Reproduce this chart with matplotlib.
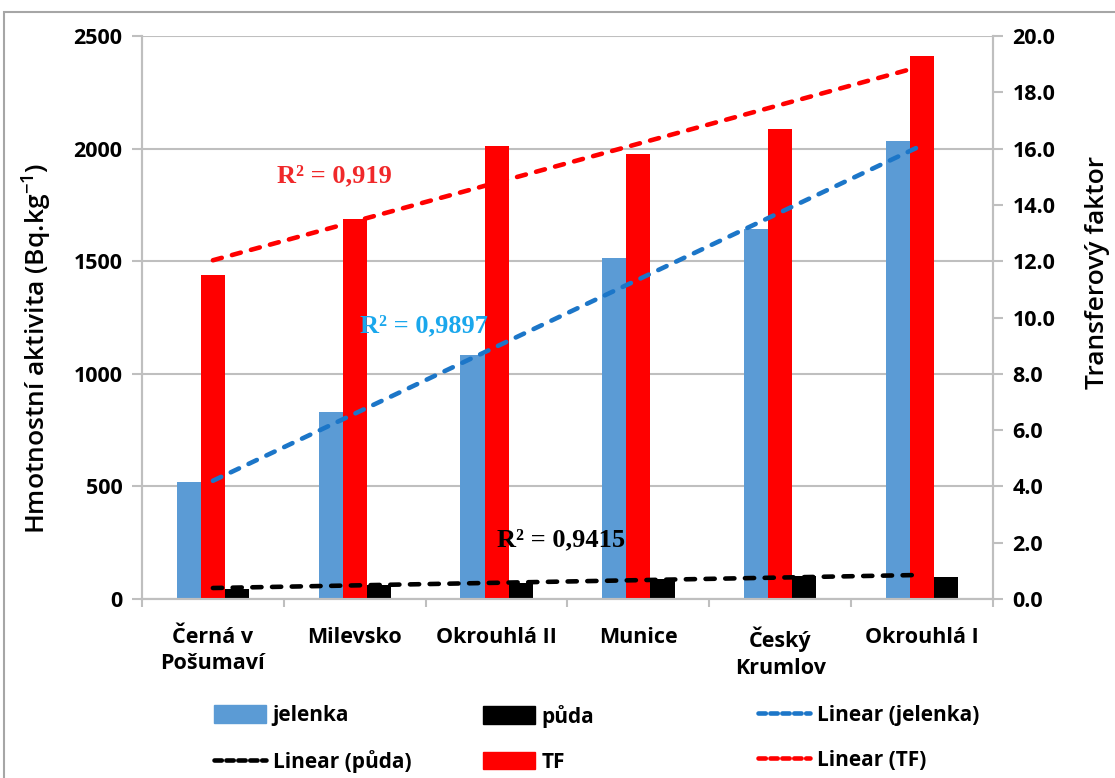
import numpy as np
import matplotlib
matplotlib.use("Agg")
import matplotlib.pyplot as plt
from matplotlib.patches import Rectangle, Patch
from matplotlib.lines import Line2D

categories = ["Černá v\nPošumaví", "Milevsko", "Okrouhlá II", "Munice", "Český\nKrumlov", "Okrouhlá I"]
jelenka = [519, 830, 1083, 1515, 1641, 2032]
puda = [44, 62, 72, 89, 102, 98]
tf = [11.5, 13.5, 16.1, 15.8, 16.7, 19.3]
left_ticks = [0, 500, 1000, 1500, 2000, 2500]
right_ticks = [0, 2, 4, 6, 8, 10, 12, 14, 16, 18, 20]
r2_labels = ["0,9897", "0,9415", "0,919"]

plt.rcParams['font.family'] = ['Open Sans', 'DejaVu Sans']
plt.rcParams['mathtext.fontset'] = 'custom'
plt.rcParams['mathtext.rm'] = 'Open Sans:semibold'
plt.rcParams['mathtext.it'] = 'Open Sans:italic'
plt.rcParams['mathtext.bf'] = 'Open Sans:bold'

W, H = 1115, 778
fig = plt.figure(figsize=(W / 100, H / 100), dpi=100)
fig.patches.append(Rectangle((4 / W, -0.05), 1.2, 1 - 12 / H + 0.05, transform=fig.transFigure,
                             fill=False, edgecolor='#a6a6a6', linewidth=1.5, zorder=0))

ax = fig.add_axes([142 / W, 1 - 599 / H, (993 - 142) / W, (599 - 36) / H])
ax2 = ax.twinx()

BLUE = '#5B9BD5'
RED = '#FF0000'
BLACK = '#000000'
TBLUE = '#1C76C8'
GRID = '#BFBFBF'

x = np.arange(len(categories))
w = 0.17
ax.bar(x - w, jelenka, width=w, color=BLUE, zorder=2)
ax.bar(x + w, puda, width=w, color=BLACK, zorder=2)
ax2.bar(x, tf, width=w, color=RED, zorder=2)

# linear trendlines
xs = x + 1.0
lw = 3.3
dash = (2.0, 2.3)
pj = np.polyfit(xs, jelenka, 1)
pp = np.polyfit(xs, puda, 1)
pt = np.polyfit(xs, tf, 1)
ends = np.array([xs[0], xs[-1]])
ax2.plot(ends - 1, np.polyval(pj, ends) / 125.0, color=TBLUE, lw=lw, dashes=dash,
         dash_capstyle='round', zorder=5)
ax2.plot(ends - 1, np.polyval(pp, ends) / 125.0, color=BLACK, lw=lw, dashes=dash,
         dash_capstyle='round', zorder=5)
ax2.plot(ends - 1, np.polyval(pt, ends), color=RED, lw=lw, dashes=dash,
         dash_capstyle='round', zorder=5)

ax.set_xlim(-0.5, len(categories) - 0.5)
ax.set_ylim(0, 2500)
ax2.set_ylim(0, 20)
ax.set_yticks(left_ticks)
ax2.set_yticks(right_ticks)
ax2.set_yticklabels([f"{v:.1f}" for v in right_ticks])
ax.grid(axis='y', color=GRID, linewidth=1.5, zorder=0)
ax.set_axisbelow(True)

ax.set_xticks(x)
ax.set_xticklabels(categories, fontsize=15.5, fontweight='bold', linespacing=1.35)
ax.set_xticks(np.arange(len(categories) + 1) - 0.5, minor=True)
ax.tick_params(axis='x', which='major', length=0, pad=20)
ax.tick_params(axis='x', which='minor', length=6, color=GRID, width=1.5)
ax.tick_params(axis='y', length=7, color=GRID, width=1.5, labelsize=15.5, pad=7)
ax2.tick_params(axis='y', length=7, color=GRID, width=1.5, labelsize=15.5, pad=7)
for lab in ax.get_yticklabels() + ax2.get_yticklabels():
    lab.set_fontweight('bold')

for a in (ax, ax2):
    for s in ('top',):
        a.spines[s].set_visible(False)
    for s in ('left', 'right', 'bottom'):
        a.spines[s].set_color(GRID)
        a.spines[s].set_linewidth(1.5)

ax.set_ylabel(r"Hmotnostní aktivita (Bq.kg$^{-1}$)", fontsize=19, fontweight='semibold')
ax2.set_ylabel("Transferový faktor", fontsize=19, fontweight='semibold')
ax.yaxis.set_label_coords((37 - 142) / 851, (599 - 348) / 563)
ax2.yaxis.set_label_coords((1097 - 142) / 851, (599 - 272) / 563)
ax.yaxis.label.set_va('center')
ax2.yaxis.label.set_va('center')

# R^2 annotations
tkw = dict(fontsize=19, fontweight='bold', family='Liberation Serif', transform=fig.transFigure,
           va='center', ha='left')
fig.text(360 / W, 1 - 326 / H, "R² = " + r2_labels[0], color='#1AA7EC', **tkw)
fig.text(497 / W, 1 - 540 / H, "R² = " + r2_labels[1], color=BLACK, **tkw)
fig.text(277 / W, 1 - 176 / H, "R² = " + r2_labels[2], color='#F0282A', **tkw)

# legends (three columns, equal spacing like Excel)
def dline(c):
    return Line2D([0], [0], color=c, lw=lw, dashes=(1.6, 1.0), dash_capstyle='round')

cols = [
    (213, [Patch(color=BLUE), dline(BLACK)], ["jelenka", "Linear (půda)"]),
    (482, [Patch(color=BLACK), Patch(color=RED)], ["půda", "TF"]),
    (757, [dline(TBLUE), dline(RED)], ["Linear (jelenka)", "Linear (TF)"]),
]
for xpx, hs, ls in cols:
    fig.legend(hs, ls, loc='upper left', bbox_to_anchor=(xpx / W - 0.012, 1 - 690 / H),
               frameon=False, prop=dict(family='Open Sans', weight='bold', size=15),
               handlelength=2.5, handleheight=0.95, handletextpad=0.3, labelspacing=1.15,
               borderpad=0.2)

fig.savefig("out.png", dpi=100)
